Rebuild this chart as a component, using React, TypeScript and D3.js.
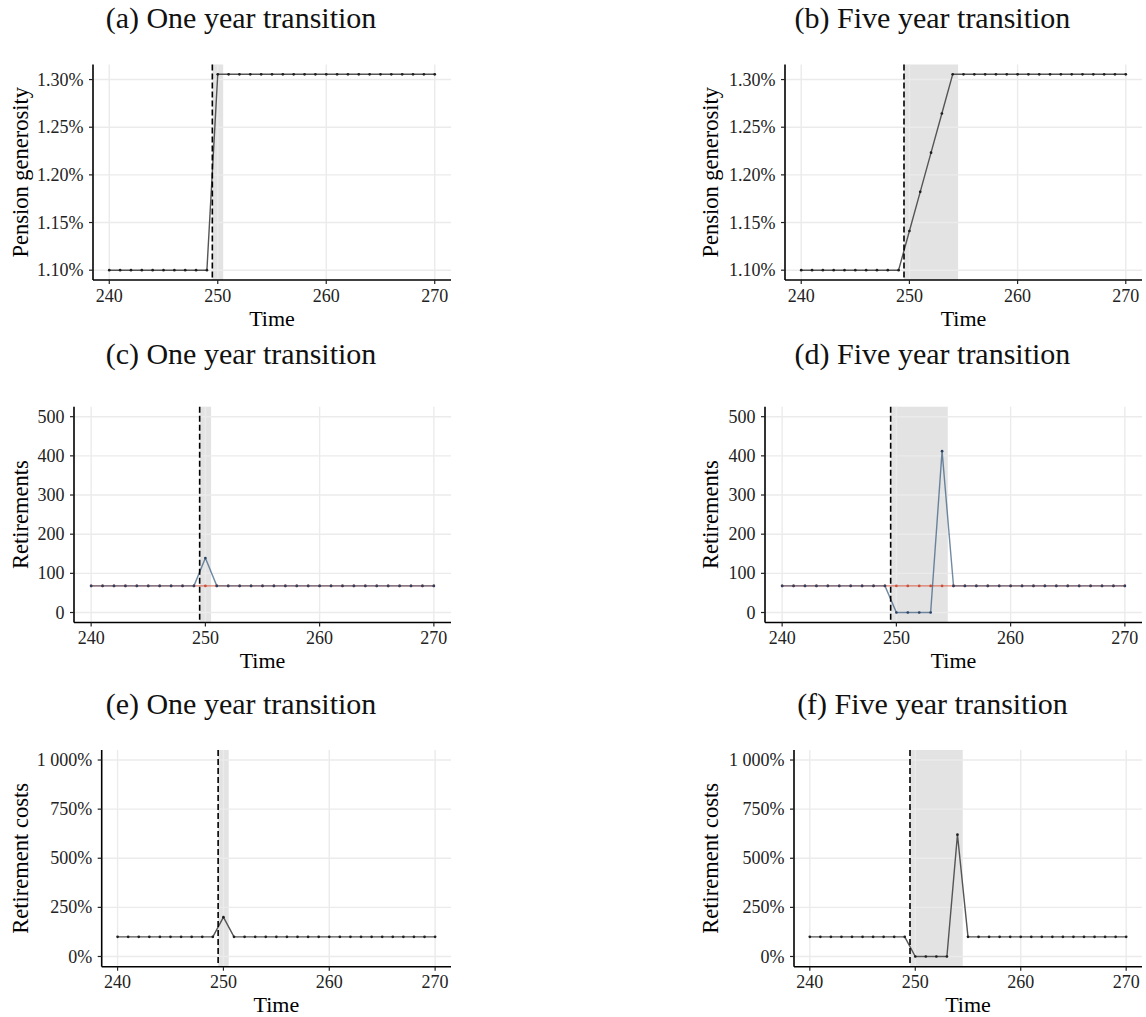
import React from "react";
import * as d3 from "d3";

// ---------- data ----------
const time = [240, 241, 242, 243, 244, 245, 246, 247, 248, 249, 250, 251, 252, 253, 254, 255, 256, 257, 258, 259, 260, 261, 262, 263, 264, 265, 266, 267, 268, 269, 270];

const generosityOne = [1.1, 1.1, 1.1, 1.1, 1.1, 1.1, 1.1, 1.1, 1.1, 1.1, 1.3055, 1.3055, 1.3055, 1.3055, 1.3055, 1.3055, 1.3055, 1.3055, 1.3055, 1.3055, 1.3055, 1.3055, 1.3055, 1.3055, 1.3055, 1.3055, 1.3055, 1.3055, 1.3055, 1.3055, 1.3055];
const generosityFive = [1.1, 1.1, 1.1, 1.1, 1.1, 1.1, 1.1, 1.1, 1.1, 1.1, 1.1411, 1.1822, 1.2233, 1.2644, 1.3055, 1.3055, 1.3055, 1.3055, 1.3055, 1.3055, 1.3055, 1.3055, 1.3055, 1.3055, 1.3055, 1.3055, 1.3055, 1.3055, 1.3055, 1.3055, 1.3055];

const retireBaseline = [68, 68, 68, 68, 68, 68, 68, 68, 68, 68, 68, 68, 68, 68, 68, 68, 68, 68, 68, 68, 68, 68, 68, 68, 68, 68, 68, 68, 68, 68, 68];
const retireOne = [68, 68, 68, 68, 68, 68, 68, 68, 68, 68, 139, 68, 68, 68, 68, 68, 68, 68, 68, 68, 68, 68, 68, 68, 68, 68, 68, 68, 68, 68, 68];
const retireFive = [68, 68, 68, 68, 68, 68, 68, 68, 68, 68, 0, 0, 0, 0, 412, 68, 68, 68, 68, 68, 68, 68, 68, 68, 68, 68, 68, 68, 68, 68, 68];

const costOne = [100, 100, 100, 100, 100, 100, 100, 100, 100, 100, 200, 100, 100, 100, 100, 100, 100, 100, 100, 100, 100, 100, 100, 100, 100, 100, 100, 100, 100, 100, 100];
const costFive = [100, 100, 100, 100, 100, 100, 100, 100, 100, 100, 0, 0, 0, 0, 620, 100, 100, 100, 100, 100, 100, 100, 100, 100, 100, 100, 100, 100, 100, 100, 100];

const xTicks = [240, 250, 260, 270];
const generosityTicks = [1.1, 1.15, 1.2, 1.25, 1.3];
const generosityLabels = ["1.10%", "1.15%", "1.20%", "1.25%", "1.30%"];
const retireTicks = [0, 100, 200, 300, 400, 500];
const retireLabels = ["0", "100", "200", "300", "400", "500"];
const costTicks = [0, 250, 500, 750, 1000];
const costLabels = ["0%", "250%", "500%", "750%", "1 000%"];

const shockTime = 249.5;
const shadeOne = [249.5, 250.5];
const shadeFive = [249.5, 254.5];

const titles = [
  "(a) One year transition",
  "(b) Five year transition",
  "(c) One year transition",
  "(d) Five year transition",
  "(e) One year transition",
  "(f) Five year transition",
];

// ---------- styles ----------
const FONT = "'Liberation Serif', 'Times New Roman', serif";
const GRID = "#ebebeb";
const SHADE = "#e3e3e3";

type Series = { values: number[]; line: string; lineOpacity: number; point: string };

type PanelSpec = {
  title: string;
  titleX: number;
  titleY: number;
  left: number;
  right: number;
  top: number;
  bottom: number;
  labelX: number;
  yLabel: string;
  yDomain: [number, number];
  yTicks: number[];
  yTickLabels: string[];
  shade: number[];
  series: Series[];
};

const grayLine = (values: number[]): Series => ({ values, line: "#555555", lineOpacity: 1, point: "#1f1f1f" });
const redLine = (values: number[]): Series => ({ values, line: "#d9604a", lineOpacity: 0.8, point: "#c94f3b" });
const blueLine = (values: number[]): Series => ({ values, line: "#2f5479", lineOpacity: 0.68, point: "#2b4262" });

const panels: PanelSpec[] = [
  { title: titles[0], titleX: 241, titleY: 27.5, left: 93, right: 451, top: 64.5, bottom: 280, labelX: 28, yLabel: "Pension generosity", yDomain: [1.0897, 1.3158], yTicks: generosityTicks, yTickLabels: generosityLabels, shade: shadeOne, series: [grayLine(generosityOne)] },
  { title: titles[1], titleX: 932.5, titleY: 27.5, left: 785, right: 1142, top: 64.5, bottom: 280, labelX: 718, yLabel: "Pension generosity", yDomain: [1.0897, 1.3158], yTicks: generosityTicks, yTickLabels: generosityLabels, shade: shadeFive, series: [grayLine(generosityFive)] },
  { title: titles[2], titleX: 241, titleY: 364, left: 74, right: 451, top: 406.7, bottom: 622.5, labelX: 28, yLabel: "Retirements", yDomain: [-25.5, 525.5], yTicks: retireTicks, yTickLabels: retireLabels, shade: shadeOne, series: [redLine(retireBaseline), blueLine(retireOne)] },
  { title: titles[3], titleX: 932.5, titleY: 364, left: 765, right: 1142, top: 406.7, bottom: 622.5, labelX: 718, yLabel: "Retirements", yDomain: [-25.5, 525.5], yTicks: retireTicks, yTickLabels: retireLabels, shade: shadeFive, series: [redLine(retireBaseline), blueLine(retireFive)] },
  { title: titles[4], titleX: 241, titleY: 714, left: 101.7, right: 451, top: 750, bottom: 966.7, labelX: 28, yLabel: "Retirement costs", yDomain: [-52, 1051], yTicks: costTicks, yTickLabels: costLabels, shade: shadeOne, series: [grayLine(costOne)] },
  { title: titles[5], titleX: 932.5, titleY: 714, left: 794, right: 1142, top: 750, bottom: 966.7, labelX: 718, yLabel: "Retirement costs", yDomain: [-52, 1051], yTicks: costTicks, yTickLabels: costLabels, shade: shadeFive, series: [grayLine(costFive)] },
];

function Panel({ p }: { p: PanelSpec }) {
  const x = d3.scaleLinear().domain([238.5, 271.5]).range([p.left, p.right]);
  const y = d3.scaleLinear().domain(p.yDomain).range([p.bottom, p.top]);
  const cy = (p.top + p.bottom) / 2;
  const cx = (p.left + p.right) / 2;

  return (
    <g>
      <text x={p.titleX} y={p.titleY} textAnchor="middle" fontFamily={FONT} fontSize={30} fill="#111">
        {p.title}
      </text>

      {/* shaded transition window */}
      <rect x={x(p.shade[0])} y={p.top} width={x(p.shade[1]) - x(p.shade[0])} height={p.bottom - p.top} fill={SHADE} />

      {/* grid */}
      {xTicks.map((t) => (
        <line key={"gx" + t} x1={x(t)} x2={x(t)} y1={p.top} y2={p.bottom} stroke={GRID} strokeWidth={1.4} />
      ))}
      {p.yTicks.map((t) => (
        <line key={"gy" + t} x1={p.left} x2={p.right} y1={y(t)} y2={y(t)} stroke={GRID} strokeWidth={1.4} />
      ))}

      {/* series lines */}
      {p.series.map((s, i) => {
        const line = d3
          .line<number>()
          .x((_, j) => x(time[j]))
          .y((v) => y(v));
        return (
          <path key={"l" + i} d={line(s.values) || ""} fill="none" stroke={s.line} strokeOpacity={s.lineOpacity} strokeWidth={1.4} strokeLinejoin="round" />
        );
      })}
      {p.series.map((s, i) => (
        <g key={"p" + i}>
          {s.values.map((v, j) => (
            <circle key={j} cx={x(time[j])} cy={y(v)} r={1.35} fill={s.point} />
          ))}
        </g>
      ))}

      {/* shock line */}
      <line x1={x(shockTime)} x2={x(shockTime)} y1={p.top} y2={p.bottom} stroke="#000" strokeWidth={1.6} strokeDasharray="6,3" />

      {/* axes */}
      <line x1={p.left} x2={p.right} y1={p.bottom} y2={p.bottom} stroke="#000" strokeWidth={1.6} />
      <line x1={p.left} x2={p.left} y1={p.top} y2={p.bottom} stroke="#000" strokeWidth={1.6} />

      {xTicks.map((t) => (
        <g key={"xt" + t}>
          <line x1={x(t)} x2={x(t)} y1={p.bottom} y2={p.bottom + 4} stroke="#222" strokeWidth={1.2} />
          <text x={x(t)} y={p.bottom + 21.5} textAnchor="middle" fontFamily={FONT} fontSize={18} fill="#222">
            {String(t)}
          </text>
        </g>
      ))}
      {p.yTicks.map((t, i) => (
        <g key={"yt" + t}>
          <line x1={p.left - 4} x2={p.left} y1={y(t)} y2={y(t)} stroke="#222" strokeWidth={1.2} />
          <text x={p.left - 9.5} y={y(t)} dy="0.34em" textAnchor="end" fontFamily={FONT} fontSize={18} fill="#222">
            {p.yTickLabels[i]}
          </text>
        </g>
      ))}

      <text x={cx} y={p.bottom + 45.5} textAnchor="middle" fontFamily={FONT} fontSize={22} fill="#000">
        Time
      </text>
      <text transform={`translate(${p.labelX},${cy}) rotate(-90)`} textAnchor="middle" fontFamily={FONT} fontSize={22.5} fill="#000">
        {p.yLabel}
      </text>
    </g>
  );
}

export default function App() {
  return (
    <svg width={1146} height={1017} viewBox="0 0 1146 1017" style={{ position: "absolute", left: 0, top: 0, background: "#fff" }}>
      <rect x={0} y={0} width={1146} height={1017} fill="#fff" />
      {panels.map((p, i) => (
        <Panel key={i} p={p} />
      ))}
    </svg>
  );
}
